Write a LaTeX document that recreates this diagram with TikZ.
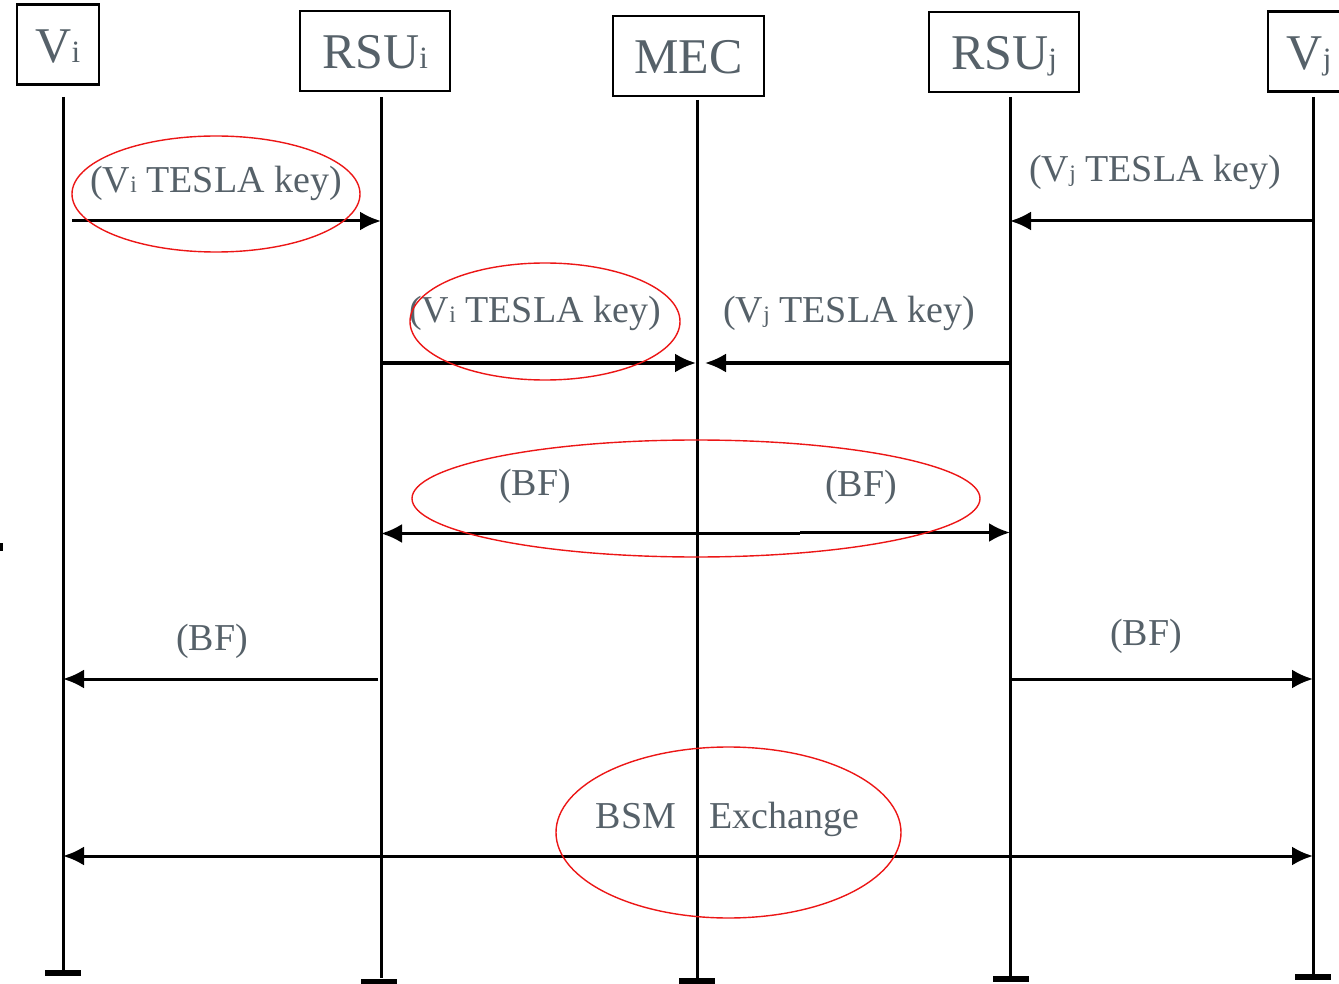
\documentclass[tikz,border=0pt]{standalone}
\usepackage{fontspec}
\setmainfont{Liberation Serif}
\usetikzlibrary{arrows.meta,shapes.geometric}
\definecolor{labelgrey}{RGB}{86,97,105}
\definecolor{ringred}{RGB}{236,22,22}
% small index letter sitting on the baseline
\newcommand\lowidx[1]{\scalebox{0.62}{#1}}

\begin{document}
\begin{tikzpicture}[x=1pt,y=-1pt,
  actor/.style={draw=black,line width=2.2pt,minimum height=80pt,inner sep=0pt,
    text height=36pt,text depth=0pt,text=labelgrey,font=\fontsize{50}{56}\selectfont},
  life/.style={line width=3pt},
  endbar/.style={fill=black,minimum width=36pt,minimum height=6pt,inner sep=0pt},
  msg/.style={line width=3pt,-{Latex[length=21pt,width=19pt]}},
  back/.style={line width=3pt,{Latex[length=21pt,width=19pt]}-},
  both/.style={line width=3pt,{Latex[length=21pt,width=19pt]}-{Latex[length=21pt,width=19pt]}},
  lbl/.style={anchor=base,inner sep=0pt,text=labelgrey,font=\fontsize{38}{44}\selectfont},
  ring/.style={ellipse,draw=ringred,line width=1.4pt,inner sep=0pt}
]
\clip (0,0) rectangle (1339,984);

% participants
\node[actor,minimum width=82pt]  (vi)   at (58,44.5)  {V\lowidx{i}};
\node[actor,minimum width=150pt] (rsui) at (375,51)   {RSU\lowidx{i}};
\node[actor,minimum width=151pt] (mec)  at (688.5,56) {MEC};
\node[actor,minimum width=150pt] (rsuj) at (1004,52)  {RSU\lowidx{j}};
\node[actor,minimum width=82pt]  (vj)   at (1309,51.5){V\lowidx{j}};

% lifelines with end bars
\coordinate (viT)   at (63,97);
\coordinate (rsuiT) at (381,97);
\coordinate (mecT)  at (697,100);
\coordinate (rsujT) at (1010,97);
\coordinate (vjT)   at (1313,97);
\node[endbar] (viB)   at (63,973)    {};
\node[endbar] (rsuiB) at (379,981.5) {};
\node[endbar] (mecB)  at (697,981)   {};
\node[endbar] (rsujB) at (1011,979)  {};
\node[endbar] (vjB)   at (1313,977)  {};
\draw[life] (viT)   -- (viB.north);
\draw[life] (rsuiT) -- (rsuiB.north -| rsuiT);
\draw[life] (mecT)  -- (mecB.north);
\draw[life] (rsujT) -- (rsujB.north -| rsujT);
\draw[life] (vjT)   -- (vjB.north);

% small mark on the left border
\fill (0,543) rectangle (2.5,551);

% message end points
\coordinate (m1a) at (72,221);   \coordinate (m1b) at (381,221);
\coordinate (m2a) at (1313,221); \coordinate (m2b) at (1010,221);
\coordinate (m3a) at (381,363);  \coordinate (m3b) at (696,363);
\coordinate (m4a) at (1010,363); \coordinate (m4b) at (705,363);
\coordinate (m5a) at (381,533.5); \coordinate (m5m) at (800,533.5);
\coordinate (m5n) at (800,532.5); \coordinate (m5b) at (1010,532.5);
\coordinate (m6a) at (378,679);  \coordinate (m6b) at (63,679);
\coordinate (m7a) at (1010,679); \coordinate (m7b) at (1313,679);
\coordinate (m8a) at (63,856);   \coordinate (m8b) at (1313,856);

% messages
\draw[msg] (m1a) -- (m1b);
\draw[msg] (m2a) -- (m2b);
\draw[msg] (m3a) -- (m3b);
\draw[msg] (m4a) -- (m4b);
\draw[back] (m5a) -- (m5m);
\draw[msg] (m5n) -- (m5b);
\draw[line width=3pt] (m5m) -- (m5n);
\draw[msg] (m6a) -- (m6b);
\draw[msg] (m7a) -- (m7b);
\draw[both] (m8a) -- (m8b);

% message labels
\node[lbl] (t1) at (216,193)  {(V\lowidx{i} TESLA key)};
\node[lbl] (t2) at (1155,182) {(V\lowidx{j} TESLA key)};
\node[lbl] (t3) at (535,323)  {(V\lowidx{i} TESLA key)};
\node[lbl] (t4) at (849,323)  {(V\lowidx{j} TESLA key)};
\node[lbl] (t5) at (535,495)  {(BF)};
\node[lbl] (t6) at (861,496)  {(BF)};
\node[lbl] (t7) at (212,650)  {(BF)};
\node[lbl] (t8) at (1146,645) {(BF)};
\node[lbl] (t9) at (636,828)  {BSM};
\node[lbl] (t10) at (784,828) {Exchange};

% red highlight rings
\node[ring,minimum width=288pt,minimum height=116pt] (r1) at (216,194)   {};
\node[ring,minimum width=270pt,minimum height=117pt] (r2) at (545,321.5) {};
\node[ring,minimum width=568pt,minimum height=117pt] (r3) at (696,498.5) {};
\node[ring,minimum width=345pt,minimum height=171pt] (r4) at (728.5,832.5) {};
\end{tikzpicture}
\end{document}
